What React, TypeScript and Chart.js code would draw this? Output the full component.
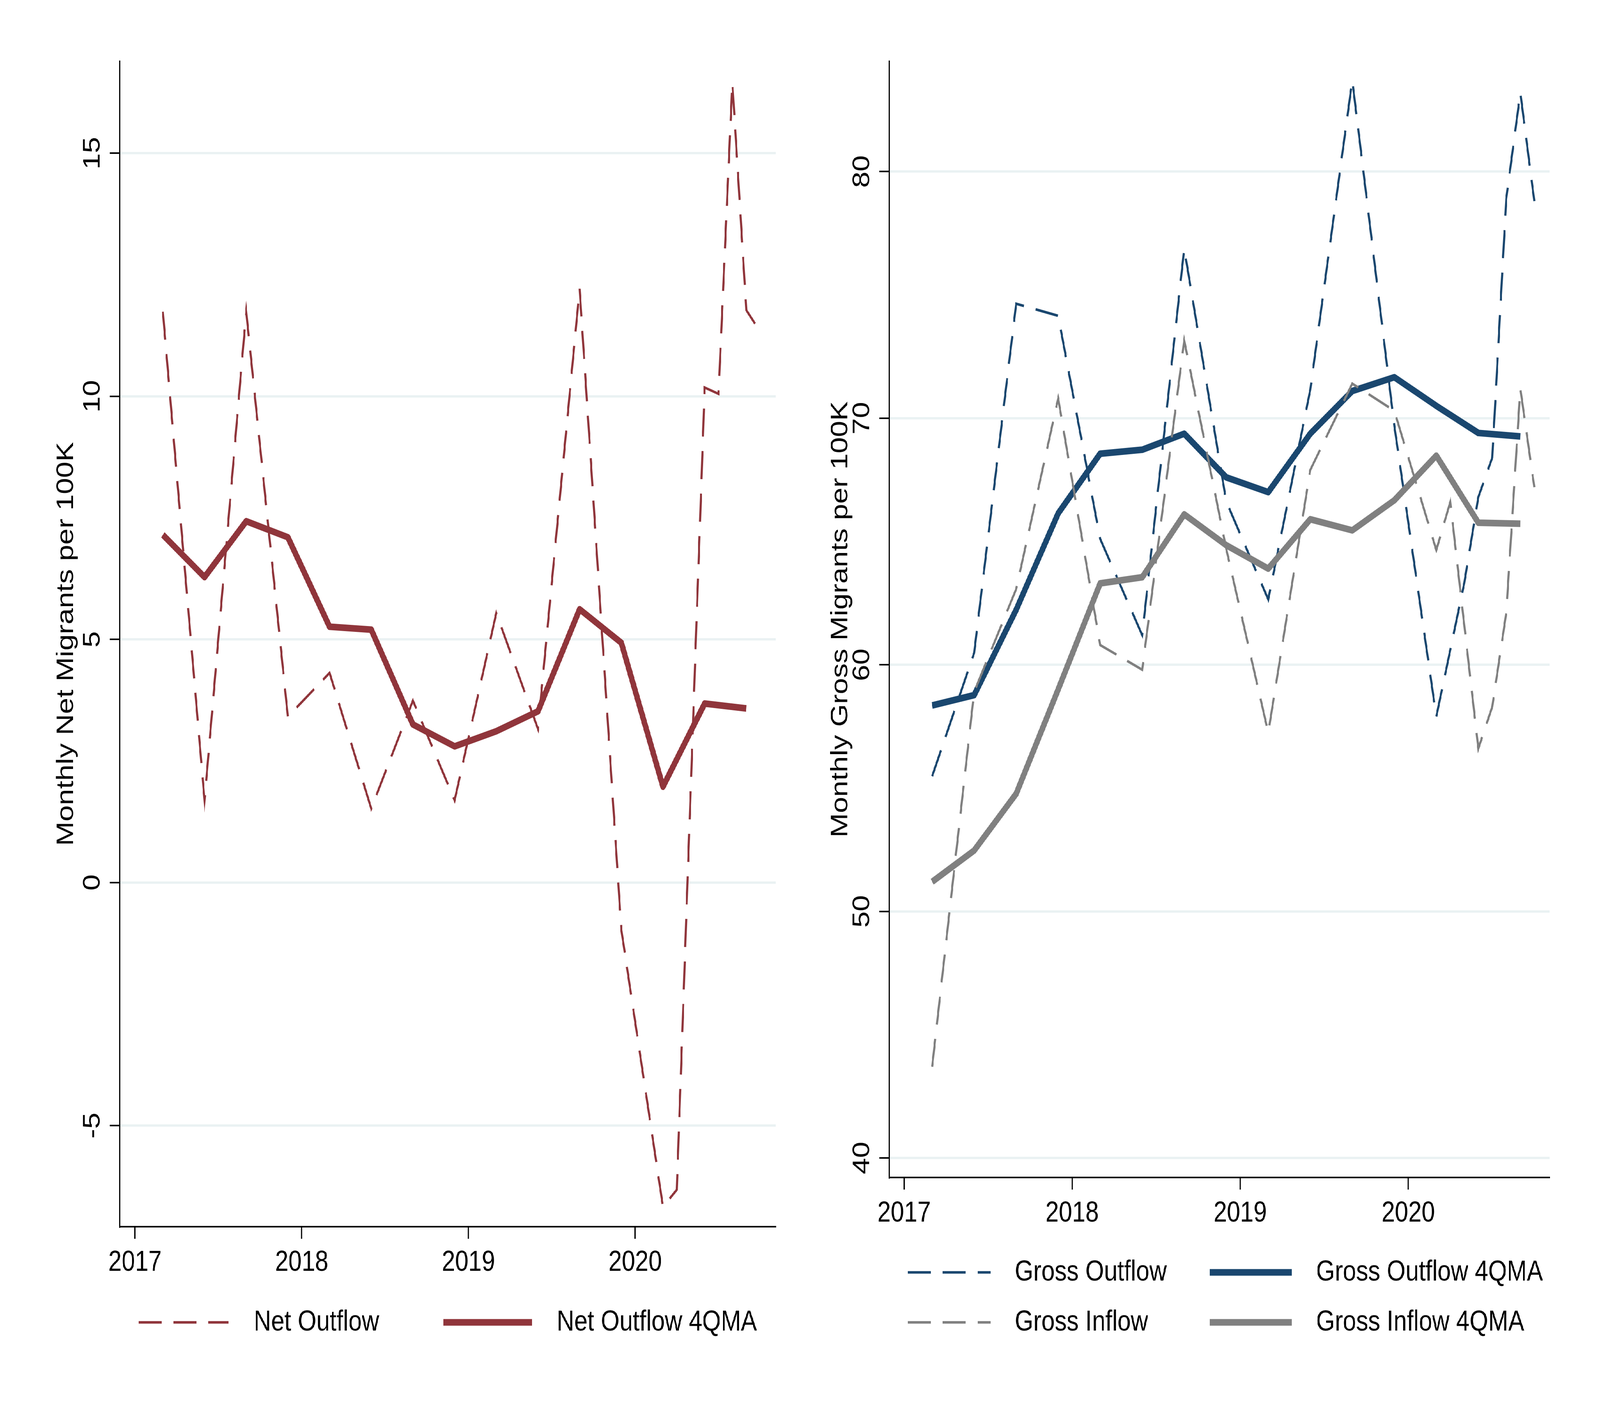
import React, { useEffect, useRef, useState } from "react";
import { Chart, registerables } from "chart.js";

Chart.register(...registerables);

const FONT = '"Liberation Sans", Arial, Helvetica, sans-serif';
const DESIGN_W = 5000;
const DESIGN_H = 3636;

// Dates as decimal years: quarter ends (Mar, Jun, Sep, Dec), then monthly through 2020
const rawDates = [
  2017.167, 2017.417, 2017.667, 2017.917, 2018.167, 2018.417, 2018.667, 2018.917,
  2019.167, 2019.417, 2019.667, 2019.917, 2020.0, 2020.083, 2020.167, 2020.25,
  2020.333, 2020.417, 2020.5, 2020.583, 2020.667, 2020.75,
];
const maDates = [
  2017.167, 2017.417, 2017.667, 2017.917, 2018.167, 2018.417, 2018.667, 2018.917,
  2019.167, 2019.417, 2019.667, 2019.917, 2020.167, 2020.417, 2020.667,
];

const xTicks = [2017, 2018, 2019, 2020];
const netTicks = [-5, 0, 5, 10, 15];
const grossTicks = [40, 50, 60, 70, 80];

const netOutflow = [
  11.74, 1.69, 11.74, 3.41, 4.31, 1.52, 3.74, 1.69, 5.54, 3.16, 12.21, -0.97,
  null, null, -6.67, -6.32, null, 10.18, 10.05, 16.45, 11.77, 11.33,
];
const netOutflow4QMA = [
  7.15, 6.28, 7.43, 7.1, 5.26, 5.2, 3.25, 2.8, 3.11, 3.52, 5.62, 4.93, 1.97, 3.68, 3.58,
];
const grossOutflow = [
  55.48, 60.48, 74.64, 74.15, 65.1, 61.2, 76.87, 66.62, 62.65, 71.15, 83.7, 69.7,
  null, null, 57.9, null, 63.3, 66.8, 68.4, 78.9, 83.2, 78.8,
];
const grossInflow = [
  43.7, 58.9, 63.07, 70.8, 60.8, 59.8, 73.15, 64.7, 57.25, 67.9, 71.4, 70.3,
  null, null, 64.65, 66.6, null, 56.6, 58.3, 62.1, 71.2, 67.2,
];
const grossOutflow4QMA = [
  58.35, 58.77, 62.23, 66.14, 68.56, 68.72, 69.37, 67.6, 67.0, 69.37, 71.1, 71.66, 70.5, 69.4, 69.26,
];
const grossInflow4QMA = [
  51.2, 52.47, 54.77, 59.0, 63.3, 63.55, 66.1, 64.85, 63.9, 65.9, 65.45, 66.67, 68.48, 65.76, 65.72,
];

const CRANBERRY = "#90353B";
const NAVY = "#1A476F";
const GRAY = "#808080";
const GRID = "#EAF2F3";
const DASH = [72, 37];

const pts = (xs: number[], ys: (number | null)[]) => xs.map((x, i) => ({ x, y: ys[i] }));

const dashed = (label: string, color: string, data: any, order: number) => ({
  label,
  data,
  borderColor: color,
  backgroundColor: color,
  borderWidth: 6.5,
  borderDash: DASH,
  spanGaps: true,
  pointRadius: 0,
  tension: 0,
  fill: false,
  order,
});
const solid = (label: string, color: string, data: any, order: number) => ({
  label,
  data,
  borderColor: color,
  backgroundColor: color,
  borderWidth: 17,
  borderJoinStyle: "round",
  borderCapStyle: "butt",
  spanGaps: true,
  pointRadius: 0,
  tension: 0,
  fill: false,
  order,
});

type LegendItem = { ds: number; x0: number; x1: number; tx: number; y: number };

function legendPlugin(items: LegendItem[]) {
  return {
    id: "stataLegend",
    afterDraw(chart: any) {
      const ctx = chart.ctx;
      ctx.save();
      for (const it of items) {
        const ds = chart.data.datasets[it.ds];
        ctx.strokeStyle = ds.borderColor;
        ctx.lineWidth = ds.borderWidth;
        ctx.lineCap = "butt";
        ctx.setLineDash(ds.borderDash || []);
        ctx.beginPath();
        ctx.moveTo(it.x0, it.y);
        ctx.lineTo(it.x1, it.y);
        ctx.stroke();
        ctx.setLineDash([]);
        ctx.fillStyle = "#000";
        ctx.font = `75px ${FONT}`;
        ctx.textAlign = "left";
        ctx.textBaseline = "middle";
        ctx.fillText(ds.label, it.tx, it.y);
      }
      ctx.restore();
    },
  };
}

type PanelProps = {
  left: number;
  datasets: any[];
  yMin: number;
  yMax: number;
  yTicks: number[];
  xMin: number;
  xMax: number;
  title: string;
  titlePad: number;
  yAxisWidth: number;
  xAxisHeight: number;
  padRight: number;
  legend: LegendItem[];
};

function Panel(p: PanelProps) {
  const ref = useRef<HTMLCanvasElement | null>(null);
  useEffect(() => {
    if (!ref.current) return;
    const tickFont = { family: FONT, size: 75 };
    const chart = new Chart(ref.current, {
      type: "line",
      data: { datasets: p.datasets },
      options: {
        responsive: false,
        animation: false,
        devicePixelRatio: 1,
        layout: { padding: { top: 157, right: p.padRight, left: 0, bottom: 0 } },
        plugins: { legend: { display: false }, tooltip: { enabled: false } },
        scales: {
          x: {
            type: "linear",
            min: p.xMin,
            max: p.xMax,
            afterBuildTicks: (s: any) => {
              s.ticks = xTicks.map((v) => ({ value: v }));
            },
            afterFit: (s: any) => {
              s.height = p.xAxisHeight;
            },
            grid: {
              drawOnChartArea: false,
              drawTicks: true,
              tickLength: 31,
              tickWidth: 4,
              tickColor: "#000",
            },
            border: { display: true, color: "#000", width: 4 },
            ticks: {
              font: tickFont,
              color: "#000",
              padding: 16,
              minRotation: 0,
              maxRotation: 0,
              autoSkip: false,
              callback: (v: any) => String(v),
            },
          },
          y: {
            type: "linear",
            min: p.yMin,
            max: p.yMax,
            afterBuildTicks: (s: any) => {
              s.ticks = p.yTicks.map((v) => ({ value: v }));
            },
            afterFit: (s: any) => {
              s.width = p.yAxisWidth;
            },
            grid: {
              color: GRID,
              lineWidth: 6,
              drawTicks: true,
              tickLength: 31,
              tickWidth: 4,
              tickColor: "#000",
            },
            border: { display: true, color: "#000", width: 4 },
            ticks: {
              font: tickFont,
              color: "#000",
              padding: 11,
              minRotation: 90,
              maxRotation: 90,
              crossAlign: "center",
              autoSkip: false,
              callback: (v: any) => String(v),
            },
            title: {
              display: true,
              text: p.title,
              color: "#000",
              font: { family: FONT, size: 75 },
              padding: { top: p.titlePad, bottom: 0 },
            },
          },
        },
      } as any,
      plugins: [legendPlugin(p.legend)],
    });
    return () => chart.destroy();
  }, []);
  return (
    <canvas
      ref={ref}
      width={2500}
      height={DESIGN_H}
      style={{ position: "absolute", left: p.left, top: 0, width: 2500, height: DESIGN_H }}
    />
  );
}

export default function App() {
  const getScale = () => ({
    sx: (window.innerWidth || DESIGN_W) / DESIGN_W,
    sy: (window.innerHeight || DESIGN_H) / DESIGN_H,
  });
  const [scale, setScale] = useState(getScale);
  useEffect(() => {
    document.documentElement.style.overflow = "hidden";
    document.body.style.overflow = "hidden";
    const onResize = () => setScale(getScale());
    window.addEventListener("resize", onResize);
    return () => window.removeEventListener("resize", onResize);
  }, []);

  const netSets = [
    dashed("Net Outflow", CRANBERRY, pts(rawDates, netOutflow), 2),
    solid("Net Outflow 4QMA", CRANBERRY, pts(maDates, netOutflow4QMA), 1),
  ];
  const grossSets = [
    dashed("Gross Outflow", NAVY, pts(rawDates, grossOutflow), 4),
    solid("Gross Outflow 4QMA", NAVY, pts(maDates, grossOutflow4QMA), 3),
    dashed("Gross Inflow", GRAY, pts(rawDates, grossInflow), 2),
    solid("Gross Inflow 4QMA", GRAY, pts(maDates, grossInflow4QMA), 1),
  ];
  return (
    <div
      style={{
        position: "fixed",
        left: 0,
        top: 0,
        width: DESIGN_W,
        height: DESIGN_H,
        background: "#fff",
        transform: `scale(${scale.sx}, ${scale.sy})`,
        transformOrigin: "0 0",
      }}
    >
      <Panel
        left={0}
        datasets={netSets}
        yMin={-7.08}
        yMax={16.89}
        yTicks={netTicks}
        xMin={2016.908}
        xMax={2020.843}
        title="Monthly Net Migrants per 100K"
        titlePad={162}
        yAxisWidth={374}
        xAxisHeight={495}
        padRight={76}
        legend={[
          { ds: 0, x0: 433, x1: 714, tx: 793, y: 3386 },
          { ds: 1, x0: 1385, x1: 1663, tx: 1740, y: 3386 },
        ]}
      />
      <Panel
        left={2500}
        datasets={grossSets}
        yMin={39.21}
        yMax={84.47}
        yTicks={grossTicks}
        xMin={2016.912}
        xMax={2020.842}
        title="Monthly Gross Migrants per 100K"
        titlePad={82}
        yAxisWidth={279}
        xAxisHeight={621}
        padRight={157}
        legend={[
          { ds: 0, x0: 337, x1: 596, tx: 671, y: 3258 },
          { ds: 1, x0: 1281, x1: 1537, tx: 1613, y: 3258 },
          { ds: 2, x0: 337, x1: 596, tx: 671, y: 3386 },
          { ds: 3, x0: 1281, x1: 1537, tx: 1613, y: 3386 },
        ]}
      />
    </div>
  );
}
